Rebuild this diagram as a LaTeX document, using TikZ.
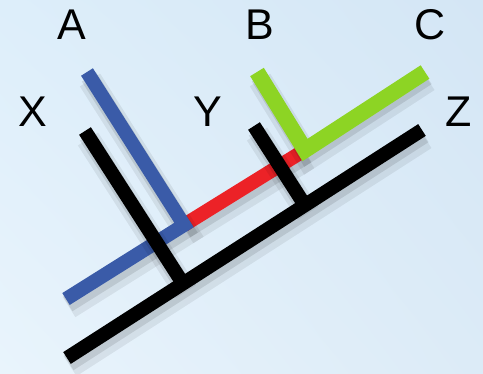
\documentclass[tikz,border=0pt]{standalone}
\usepackage{fontspec}
\setmainfont{Liberation Sans}
\usetikzlibrary{calc,shadings}
\definecolor{cBlue}{HTML}{3A5BA8}
\definecolor{cRed}{HTML}{EC2227}
\definecolor{cGreen}{HTML}{8DD424}
\definecolor{cBgTL}{HTML}{DDEEFA}
\definecolor{cBgTR}{HTML}{D4E6F5}
\definecolor{cBgBL}{HTML}{E9F4FC}
\definecolor{cBgBR}{HTML}{DCEBF7}
\tikzset{
  bar/.style={line width=14pt, line cap=butt, line join=miter,
              preaction={draw=black, opacity=.07, line width=24pt,
                         transform canvas={shift={(3pt,-8pt)}}},
              preaction={draw=black, opacity=.10, line width=17pt,
                         transform canvas={shift={(2pt,-5pt)}}}},
  blueb/.style={bar, draw=cBlue},
  redb/.style={bar, draw=cRed},
  greenb/.style={bar, draw=cGreen, line width=16pt},
  blackb/.style={bar, draw=black},
  lbl/.style={font=\fontsize{43}{46}\selectfont, inner sep=0pt},
}

\begin{document}
\begin{tikzpicture}[x=1pt, y=-1pt]
    \useasboundingbox (0,0) rectangle (483,374);
    \shade[upper left=cBgTL, upper right=cBgTR, lower left=cBgBL, lower right=cBgBR]
      (0,0) rectangle (483,374);

    % --- labels ---
    \node[lbl] (la) at (72,25)  {A};
    \node[lbl] (lb) at (260,25) {B};
    \node[lbl] (lc) at (430,25) {C};
    \node[lbl] (lx) at (33,112)  {X};
    \node[lbl] (ly) at (208,112) {Y};
    \node[lbl] (lz) at (459,112) {Z};

    % --- coloured path ---
    \coordinate (at) at (87,72);
    \coordinate (ac) at (184,225);
    \coordinate (ae) at (66,299);
    \coordinate (bt) at (257,72);
    \coordinate (bc) at (305,150);
    \coordinate (ce) at (425,72);
    \draw[redb]   (ac) -- (bc);
    \draw[blueb]  (at) -- (ac) -- (ae);
    \draw[greenb] (bt) -- (bc) -- (ce);

    % --- black tree ---
    \coordinate (z1) at (67,358);
    \coordinate (z2) at (422,130);
    \coordinate (xt) at (85,131);
    \coordinate (yt) at (254,126);
    \draw[blackb] (xt) -- ($(z1)!(xt)!(z2)$);
    \draw[blackb] (yt) -- ($(z1)!(yt)!(z2)$);
    \draw[blackb] (z1) -- (z2);
\end{tikzpicture}
\end{document}
